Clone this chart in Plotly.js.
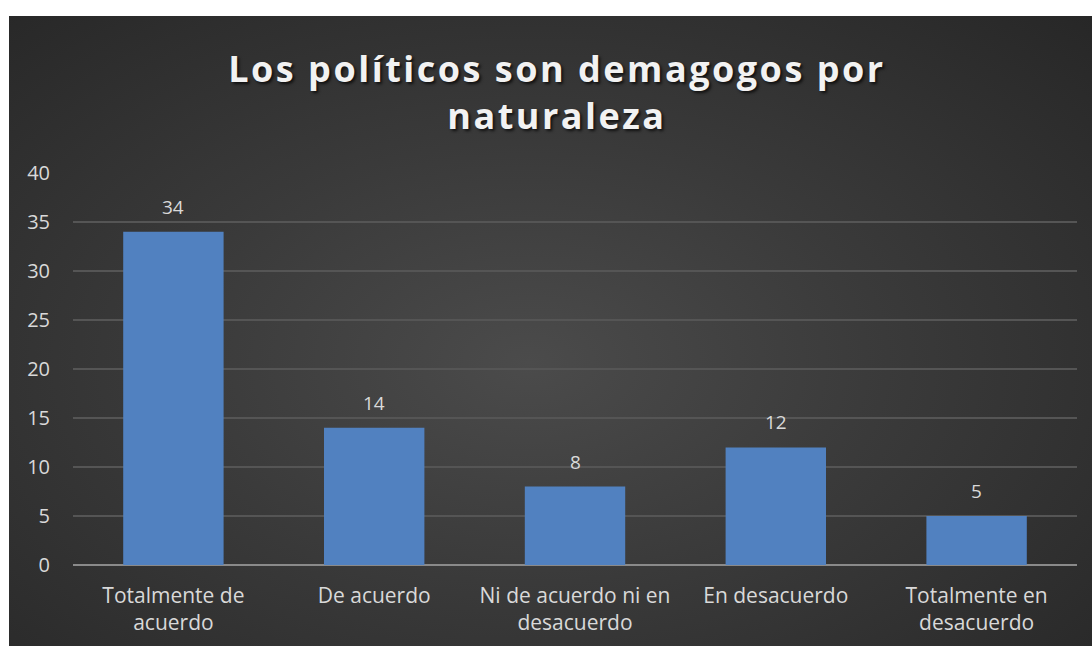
<!DOCTYPE html>
<html><head><meta charset="utf-8">
<script src="https://cdn.plot.ly/plotly-3.0.1.min.js"></script>
<style>
html,body{margin:0;padding:0;background:#fff;}
#bg{position:absolute;left:9px;top:16px;width:1083px;height:630px;
background:radial-gradient(ellipse at 48% 55%, #4b4b4b 0%, #3a3a3a 45%, #272727 100%);}
#chart{position:absolute;left:0;top:0;width:1092px;height:646px;}
.gtitle{letter-spacing:2.5px;}
</style></head><body>
<div id="bg"></div>
<div id="chart"></div>
<script>
const categories = ["Totalmente de<br>acuerdo","De acuerdo","Ni de acuerdo ni en<br>desacuerdo","En desacuerdo","Totalmente en<br>desacuerdo"];
const values = [34, 14, 8, 12, 5];
const titleText = "Los políticos son demagogos por<br>naturaleza";

const labelColor = "#d9d9d9";
const trace = {
  type: "bar", x: categories, y: values,
  marker: {color: "#5181c0", line: {width: 0}},
  hoverinfo: "none"
};
const annotations = categories.map((c, i) => ({
  x: c, y: values[i], text: String(values[i]), showarrow: false,
  yanchor: "bottom", yshift: 10,
  font: {family: "Open Sans, sans-serif", size: 19, color: labelColor}
}));
const layout = {
  width: 1092, height: 646,
  paper_bgcolor: "rgba(0,0,0,0)", plot_bgcolor: "rgba(0,0,0,0)",
  margin: {l: 73, r: 15, t: 173, b: 81},
  bargap: 0.5,
  showlegend: false,
  title: {text: titleText, x: 0.51, xanchor: "center", y: 0.873, yanchor: "middle",
    font: {family: "Open Sans, sans-serif", size: 36, weight: 700, color: "#f2f2f2",
      shadow: "2px 2px 3px rgba(0,0,0,0.7)"}},
  xaxis: {type: "category", showgrid: false, zeroline: false, showline: false,
    ticks: "", tickfont: {family: "Open Sans, sans-serif", size: 21, color: labelColor},
    ticklabelstandoff: 16},
  yaxis: {range: [0, 40], dtick: 5, showgrid: true, gridcolor: "#555555", gridwidth: 1.5,
    zeroline: true, zerolinecolor: "#8a8a8a", zerolinewidth: 2, showline: false, ticks: "",
    tickfont: {family: "Open Sans, sans-serif", size: 20, color: labelColor},
    ticklabelstandoff: 22},
  annotations: annotations
};
Plotly.newPlot("chart", [trace], layout, {displayModeBar: false, staticPlot: true});
</script></body></html>
